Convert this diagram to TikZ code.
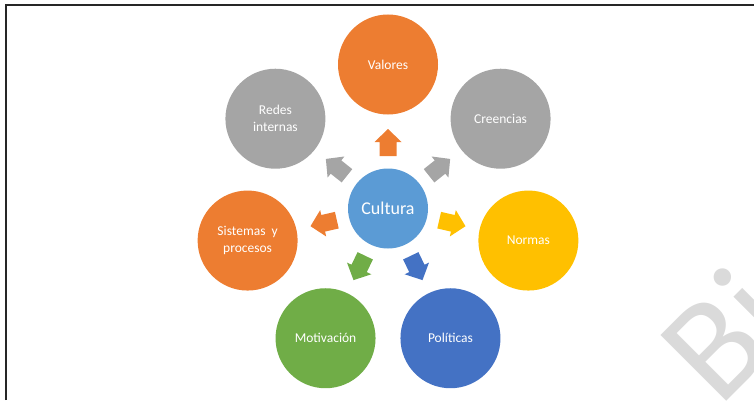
\documentclass[tikz,border=0pt]{standalone}
\usepackage{fontspec}
\setmainfont{Carlito}
\usetikzlibrary{calc}
\definecolor{cOrange}{HTML}{ED7D31}
\definecolor{cGray}{HTML}{A5A5A5}
\definecolor{cYellow}{HTML}{FFC000}
\definecolor{cBlue}{HTML}{4472C4}
\definecolor{cGreen}{HTML}{70AD47}
\definecolor{cLight}{HTML}{5B9BD5}
\definecolor{wm}{HTML}{DADADA}
\definecolor{frame}{HTML}{262626}
\begin{document}
\begin{tikzpicture}[x=1pt,y=1pt,
  bubble/.style={circle, minimum size=100pt, inner sep=0pt, text=white,
    font=\fontsize{13.5}{17}\selectfont, align=center},
  pics/barrow/.style={code={\fill[#1] (-13.5,-8.5) -- (0.5,-8.5) -- (0.5,-13.5) -- (13.5,0) -- (0.5,13.5) -- (0.5,8.5) -- (-13.5,8.5) -- cycle;}}
]
\useasboundingbox (0,0) rectangle (754,400);
\begin{scope}
  \clip (0,0) rectangle (754,400);
  \node[rotate=45, anchor=base west, inner sep=0pt, text=wm,
    font=\fontsize{145}{145}\selectfont] (wmk) at (719.5,-9) {Bi};
\end{scope}
\draw[line width=2pt, frame] (5.5,0) -- (5.5,394.5) -- (754,394.5);
\coordinate (O) at (388,191.5);
\node[bubble, fill=cLight, minimum size=80pt, font=\fontsize{18}{20}\selectfont] (cult) at (O) {Cultura};
\node[bubble, fill=cOrange] (val) at ($(O)+(90:144)$) {Valores};
\node[bubble, fill=cGray] (cre) at ($(O)+(38.57:144)$) {Creencias};
\node[bubble, fill=cYellow] (nor) at ($(O)+(-12.86:144)$) {Normas};
\node[bubble, fill=cBlue] (pol) at ($(O)+(-64.29:144)$) {Políticas};
\node[bubble, fill=cGreen] (mot) at ($(O)+(-115.71:144)$) {Motivación};
\node[bubble, fill=cOrange] (sis) at ($(O)+(-167.14:144)$) {Sistemas\ \ y\\procesos};
\node[bubble, fill=cGray] (red) at ($(O)+(141.43:144)$) {Redes\\internas};
\pic[rotate=90] at ($(O)+(90:66)$) {barrow=cOrange};
\pic[rotate=38.57] at ($(O)+(38.57:66)$) {barrow=cGray};
\pic[rotate=-12.86] at ($(O)+(-12.86:66)$) {barrow=cYellow};
\pic[rotate=-64.29] at ($(O)+(-64.29:66)$) {barrow=cBlue};
\pic[rotate=-115.71] at ($(O)+(-115.71:66)$) {barrow=cGreen};
\pic[rotate=-167.14] at ($(O)+(-167.14:66)$) {barrow=cOrange};
\pic[rotate=141.43] at ($(O)+(141.43:66)$) {barrow=cGray};
\end{tikzpicture}
\end{document}
